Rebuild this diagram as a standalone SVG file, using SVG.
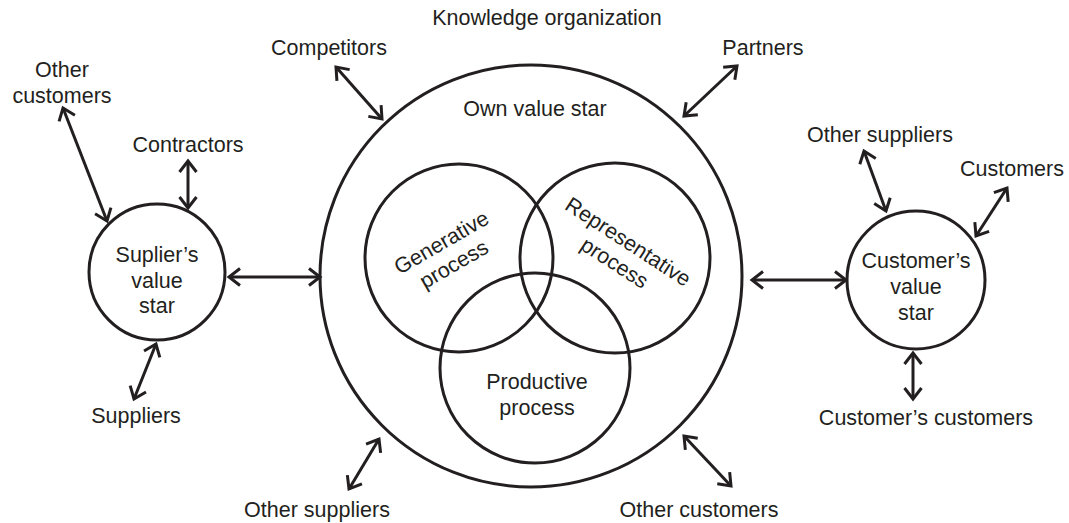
<svg xmlns="http://www.w3.org/2000/svg" width="1069" height="523" viewBox="0 0 1069 523">
<style>
.c{fill:none;stroke:#231f20;stroke-width:3}
.a{fill:none;stroke:#231f20;stroke-width:3;marker-start:url(#ah);marker-end:url(#ah)}
text{font-family:"Liberation Sans",Arial,sans-serif;font-size:21.5px;fill:#231f20;text-anchor:middle}
</style>
<defs>
<marker id="ah" viewBox="-13 -10 17 20" refX="0" refY="0" markerWidth="17" markerHeight="20" markerUnits="userSpaceOnUse" orient="auto-start-reverse">
<path d="M-11,-8.5 L0,0 L-11,8.5" fill="none" stroke="#231f20" stroke-width="3" stroke-linejoin="miter"/>
</marker>
</defs>
<rect width="1069" height="523" fill="#fff"/>
<text x="547" y="25">Knowledge organization</text>
<g id="own">
<circle class="c" cx="531" cy="276" r="211"/>
<text x="535" y="116">Own value star</text>
</g>
<g id="generative">
<circle class="c" cx="459" cy="258" r="94"/>
<text transform="translate(448,254) rotate(-30)"><tspan x="0" y="-6">Generative</tspan><tspan x="0" y="19">process</tspan></text>
</g>
<g id="representative">
<circle class="c" cx="615" cy="258" r="95"/>
<text transform="translate(621,253) rotate(33)"><tspan x="0" y="-6">Representative</tspan><tspan x="0" y="19">process</tspan></text>
</g>
<g id="productive">
<circle class="c" cx="535" cy="368" r="95"/>
<text x="537" y="389">Productive</text>
<text x="537" y="415">process</text>
</g>
<g id="supplier">
<circle class="c" cx="157" cy="272" r="68"/>
<text x="157" y="262">Suplier’s</text>
<text x="157" y="288">value</text>
<text x="157" y="313">star</text>
</g>
<g id="customer">
<circle class="c" cx="916" cy="280" r="69"/>
<text x="916" y="268">Customer’s</text>
<text x="916" y="294">value</text>
<text x="916" y="320">star</text>
</g>
<g id="labels">
<text x="329" y="55">Competitors</text>
<text x="763" y="55">Partners</text>
<text x="62" y="77">Other</text>
<text x="62" y="103">customers</text>
<text x="188" y="152">Contractors</text>
<text x="136" y="423">Suppliers</text>
<text x="317" y="517">Other suppliers</text>
<text x="699" y="517">Other customers</text>
<text x="880" y="142">Other suppliers</text>
<text x="1012" y="176">Customers</text>
<text x="926" y="425">Customer’s customers</text>
</g>
<g id="connectors">
<line class="a" x1="229" y1="277" x2="320" y2="277"/>
<line class="a" x1="752" y1="280" x2="846" y2="280"/>
<line class="a" x1="63" y1="108" x2="107" y2="221"/>
<line class="a" x1="188" y1="161" x2="188" y2="208"/>
<line class="a" x1="156" y1="344" x2="134" y2="399"/>
<line class="a" x1="336" y1="67" x2="382" y2="119"/>
<line class="a" x1="737" y1="66" x2="684" y2="116"/>
<line class="a" x1="379" y1="439" x2="349" y2="489"/>
<line class="a" x1="684" y1="436" x2="731" y2="486"/>
<line class="a" x1="864" y1="151" x2="886" y2="211"/>
<line class="a" x1="1007" y1="188" x2="976" y2="236"/>
<line class="a" x1="913" y1="353" x2="913" y2="399"/>
</g>
</svg>
